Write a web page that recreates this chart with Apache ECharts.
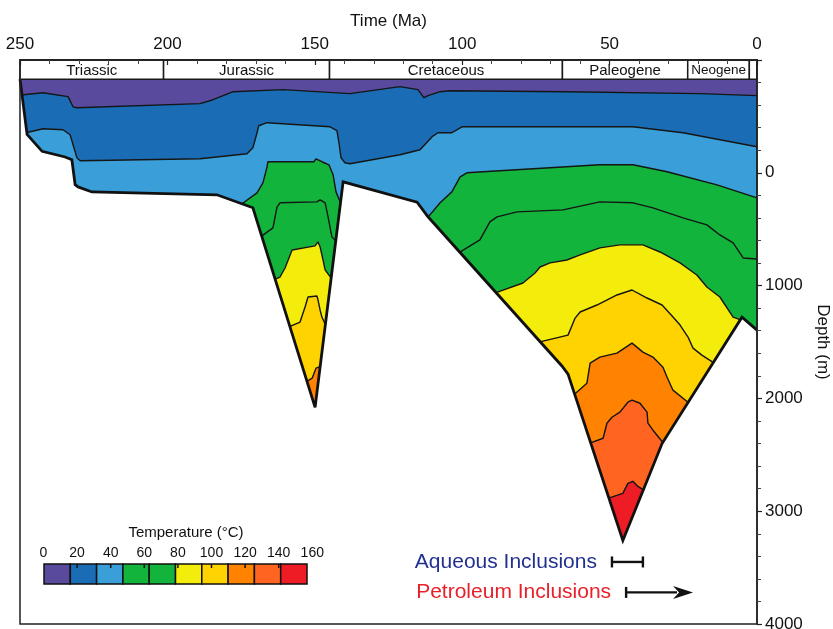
<!DOCTYPE html>
<html>
<head>
<meta charset="utf-8">
<title>Burial and thermal history</title>
<script src="https://cdn.jsdelivr.net/npm/echarts@6/dist/echarts.min.js"></script>
<style>
  html, body { margin: 0; padding: 0; background: #fff; }
  #chart { width: 833px; height: 629px; }
</style>
</head>
<body>
<div id="chart"></div>
<script>
// ---- Data: time in Ma, depth in metres ----
const FONT = '"Liberation Sans", Arial, Helvetica, sans-serif';

const periodNames = ['Triassic', 'Jurassic', 'Cretaceous', 'Paleogene', 'Neogene', ''];
const periodBounds = [250, 201.3, 145, 66, 23.5, 2.6, 0];

const SURFACE = -830;   // top of the section (below the period bar)
const BAR_TOP = -1000;  // top of the period bar
const FLOOR = 4000;     // bottom of the frame
const DEEP = 3950;      // lower closing edge of the band polygons (hidden by the mask)

// temperature bands, coolest to hottest
const zoneColors = ['#5a4a9e', '#1a6cb5', '#3a9fd8', '#12b43c', '#12b43c',
                    '#f4ec0a', '#ffd300', '#ff8200', '#ff6420', '#ee1c25'];
const legendLabels = [0, 20, 40, 60, 80, 100, 120, 140, 160];

// base of the sedimentary section
const basement = [[250, -830], [247.6, -340], [242.5, -190], [234.7, -140], [232.4, -115],
  [231.3, 105], [230.3, 125], [225.6, 170], [183.2, 195], [171.0, 310], [149.9, 2080],
  [140.4, 80], [115.3, 260], [111.6, 390], [66.1, 1715], [64.1, 1785], [45.5, 3260],
  [32.2, 2400], [5.1, 1280], [0, 1395]];

// isotherms separating successive bands, shallow to deep (each may have several pieces)
const iso1 = [[[249.6, -690], [242.2, -710], [233.7, -675], [232.0, -585], [230.7, -577],
  [188.9, -613], [184.5, -648], [177.7, -719], [160.8, -737], [143.8, -711], [138.1, -702],
  [121.1, -764], [115.0, -737], [113.0, -666], [111.6, -684], [107.5, -719], [104.1, -728],
  [64.5, -719], [19.3, -702], [0, -684]]];
const iso2 = [[[248.0, -355], [242.2, -391], [235.4, -382], [233.0, -337], [230.7, -133],
  [229.6, -107], [188.9, -124], [173.0, -169], [171.0, -222], [169.6, -355], [169.0, -417],
  [166.2, -444], [144.8, -408], [142.5, -373], [141.8, -266], [141.1, -133], [139.8, -89],
  [138.1, -80], [121.1, -160], [114.3, -204], [110.2, -320], [108.2, -355], [103.5, -355],
  [100.1, -408], [95.0, -408], [42.1, -408], [25.1, -355], [0, -231]]];
const iso3 = [
  [[175.5, 290], [169.6, 178], [167.6, 89], [166.2, -53], [165.9, -98], [150.3, -98],
   [149.6, -124], [147.6, -98], [145.2, -71], [143.8, 18], [142.8, 169], [141.0, 284]],
  [[111.8, 400], [107.5, 266], [103.5, 169], [100.7, 36], [98.4, 0], [92.9, -9],
   [53.3, -71], [42.1, -71], [30.5, -9], [13.6, 107], [0, 222]]];
const iso4 = [
  [[168.4, 568], [164.2, 488], [162.8, 302], [161.8, 266], [149.3, 258], [148.2, 240],
   [146.5, 266], [145.5, 391], [144.2, 568], [142.5, 613]],
  [[101.2, 710], [94.0, 595], [90.6, 435], [88.2, 391], [81.4, 346], [65.8, 329],
   [53.3, 258], [42.1, 266], [35.3, 311], [25.1, 400], [17.0, 462], [12.6, 551],
   [8.1, 622], [4.7, 755], [0, 764]]];
const iso5 = [
  [[164.0, 950], [161.8, 924], [160.1, 844], [157.7, 684], [149.9, 648], [148.9, 613],
   [148.2, 657], [147.2, 773], [146.5, 861], [144.0, 950]],
  [[89.0, 1066], [79.4, 977], [75.3, 888], [73.6, 835], [70.2, 799], [64.5, 773],
   [60.0, 728], [53.3, 666], [46.5, 639], [38.7, 639], [32.9, 702], [26.1, 799],
   [20.4, 906], [17.0, 1012], [12.6, 1101], [8.1, 1279], [5.3, 1306]]];
const iso6 = [
  [[159.0, 1368], [155.0, 1323], [153.3, 1190], [152.3, 1101], [149.3, 1092],
   [148.9, 1128], [148.2, 1217], [147.6, 1279], [146.0, 1368]],
  [[74.0, 1501], [64.1, 1439], [61.7, 1288], [60.0, 1234], [54.3, 1172], [47.5, 1083],
   [42.4, 1039], [37.3, 1110], [32.2, 1172], [28.5, 1279], [26.1, 1350], [23.4, 1456],
   [21.7, 1554], [18.7, 1616], [14.5, 1687]]];
const iso7 = [
  [[153.1, 1856], [150.9, 1821], [149.6, 1732], [147.7, 1714]],
  [[62.3, 1972], [57.7, 1865], [56.6, 1687], [53.3, 1634], [47.5, 1599], [42.4, 1510],
   [38.7, 1590], [35.3, 1634], [31.9, 1723], [30.5, 1812], [28.5, 1927], [23.0, 2043]]];
const iso8 = [[[56.9, 2398], [52.2, 2353], [50.9, 2220], [49.2, 2167], [46.5, 2122],
  [43.8, 2034], [42.4, 2016], [39.7, 2043], [37.3, 2122], [37.0, 2220], [35.3, 2282],
  [31.7, 2398]]];
const iso9 = [[[50.6, 2886], [45.5, 2842], [43.8, 2753], [42.1, 2735], [40.4, 2780],
  [38.2, 2815]]];
const isotherms = [iso1, iso2, iso3, iso4, iso5, iso6, iso7, iso8, iso9];

// fluid inclusion timing (Ma) and the depth row they are drawn on
const aqueousRange = [49.2, 38.7];
const petroleumRange = [44.4, 21.7];
const inclusionRows = [3450, 3720];

// ---- Build drawable items ----
const fills = [{ at: [250, SURFACE], color: zoneColors[0],
  pts: [[250, SURFACE], [0, SURFACE], [0, DEEP], [250, DEEP]] }];
isotherms.forEach((pieces, k) => {
  pieces.forEach(p => {
    fills.push({ at: p[0], color: zoneColors[k + 1],
      pts: p.concat([[p[p.length - 1][0], DEEP], [p[0][0], DEEP]]) });
  });
});
const lines = [];
isotherms.forEach(pieces => pieces.forEach(p => lines.push({ at: p[0], pts: p })));

const periods = periodNames.map((n, i) => ({
  at: [(periodBounds[i] + periodBounds[i + 1]) / 2, (BAR_TOP + SURFACE) / 2],
  name: n, from: periodBounds[i], to: periodBounds[i + 1]
}));

const inclusions = [
  { at: [aqueousRange[0], inclusionRows[0]], label: 'Aqueous Inclusions', color: '#22308f',
    from: aqueousRange[0], to: aqueousRange[1], depth: inclusionRows[0], arrow: false },
  { at: [petroleumRange[0], inclusionRows[1]], label: 'Petroleum Inclusions', color: '#e8202a',
    from: petroleumRange[0], to: petroleumRange[1], depth: inclusionRows[1], arrow: true }
];

function layer(name, z, items, draw) {
  return {
    type: 'custom', name: name, z: z, silent: true, animation: false, clip: false,
    coordinateSystem: 'cartesian2d',
    data: items.map((it, i) => [it.at[0], it.at[1], i]),
    encode: { x: 0, y: 1 },
    renderItem: (params, api) => draw(items[params.dataIndex], api)
  };
}

const series = [
  layer('bands', 2, fills, (it, api) => ({
    type: 'polygon',
    shape: { points: it.pts.map(p => api.coord(p)) },
    style: { fill: it.color, stroke: it.color, lineWidth: 0.5 }
  })),
  layer('isotherms', 3, lines, (it, api) => ({
    type: 'polyline',
    shape: { points: it.pts.map(p => api.coord(p)) },
    style: { fill: 'none', stroke: '#151515', lineWidth: 1.4, lineJoin: 'round' }
  })),
  layer('basementMask', 4, [{ at: basement[0] }], (it, api) => ({
    type: 'polygon',
    shape: { points: basement.concat([[0, FLOOR], [250, FLOOR]]).map(p => api.coord(p)) },
    style: { fill: '#ffffff', stroke: '#ffffff', lineWidth: 1 }
  })),
  layer('basement', 5, [{ at: basement[0] }], (it, api) => ({
    type: 'polyline',
    shape: { points: basement.map(p => api.coord(p)) },
    style: { fill: 'none', stroke: '#111', lineWidth: 2.8, lineJoin: 'miter', miterLimit: 4 }
  })),
  layer('periods', 6, periods, (it, api) => {
    const a = api.coord([it.from, BAR_TOP]);
    const b = api.coord([it.to, SURFACE]);
    const c = api.coord(it.at);
    return {
      type: 'group',
      children: [
        { type: 'rect', shape: { x: a[0], y: a[1], width: b[0] - a[0], height: b[1] - a[1] },
          style: { fill: '#fff', stroke: '#1a1a1a', lineWidth: 1.5 } },
        { type: 'text', x: c[0], y: c[1] + 1,
          style: { text: it.name, fill: '#111', fontSize: it.name === 'Neogene' ? 13.5 : 15,
                   fontFamily: FONT, align: 'center', verticalAlign: 'middle' } }
      ]
    };
  }),
  layer('inclusions', 7, inclusions, (it, api) => {
    const s = api.coord([it.from, it.depth]);
    const e = api.coord([it.to, it.depth]);
    const kids = [
      { type: 'text', x: s[0] - 15, y: s[1],
        style: { text: it.label, fill: it.color, fontSize: 21, fontFamily: FONT,
                 align: 'right', verticalAlign: 'middle' } },
      { type: 'line', shape: { x1: s[0], y1: s[1] - 5.5, x2: s[0], y2: s[1] + 5.5 },
        style: { stroke: '#111', lineWidth: 2.4 } }
    ];
    if (it.arrow) {
      kids.push({ type: 'line', shape: { x1: s[0], y1: s[1], x2: e[0] - 16, y2: e[1] },
        style: { stroke: '#111', lineWidth: 2.4 } });
      kids.push({ type: 'polygon',
        shape: { points: [[e[0], e[1]], [e[0] - 20, e[1] - 6.5], [e[0] - 14, e[1]], [e[0] - 20, e[1] + 6.5]] },
        style: { fill: '#111' } });
    } else {
      kids.push({ type: 'line', shape: { x1: s[0], y1: s[1], x2: e[0], y2: e[1] },
        style: { stroke: '#111', lineWidth: 2.4 } });
      kids.push({ type: 'line', shape: { x1: e[0], y1: e[1] - 5.5, x2: e[0], y2: e[1] + 5.5 },
        style: { stroke: '#111', lineWidth: 2.4 } });
    }
    return { type: 'group', children: kids };
  })
];

// ---- Temperature colour scale ----
const legend = [];
const boxLeft = 44, boxW = 26.3, boxTop = 564, boxH = 20;
zoneColors.forEach((c, i) => {
  legend.push({ type: 'rect', z: 100,
    shape: { x: boxLeft + i * boxW, y: boxTop, width: boxW, height: boxH },
    style: { fill: c, stroke: '#111', lineWidth: 1.5 } });
});
legendLabels.forEach((v, i) => {
  const x = 43.5 + i * 33.6;
  legend.push({ type: 'text', z: 100, x: x, y: 553,
    style: { text: String(v), fill: '#111', fontSize: 14, fontFamily: FONT,
             align: 'center', verticalAlign: 'middle' } });
  if (i > 0 && i < legendLabels.length - 1) {
    legend.push({ type: 'line', z: 101,
      shape: { x1: x, y1: boxTop, x2: x, y2: boxTop + 4 },
      style: { stroke: '#111', lineWidth: 1.5 } });
  }
});
legend.push({ type: 'text', z: 100, x: 186, y: 533,
  style: { text: 'Temperature (°C)', fill: '#111', fontSize: 15, fontFamily: FONT,
           align: 'center', verticalAlign: 'middle' } });

const chart = echarts.init(document.getElementById('chart'), null, { renderer: 'canvas' });
chart.setOption({
  animation: false,
  backgroundColor: '#ffffff',
  grid: { left: 20, right: 76, top: 60, bottom: 5, show: true, z: 10,
          containLabel: false, outerBoundsMode: 'none',
          backgroundColor: 'transparent', borderColor: '#222', borderWidth: 1.5 },
  xAxis: {
    type: 'value', position: 'top', inverse: true, min: 0, max: 250, interval: 50, z: 10,
    name: 'Time (Ma)', nameLocation: 'middle', nameGap: 30,
    nameTextStyle: { fontSize: 17, color: '#111', fontFamily: FONT },
    axisLine: { show: true, onZero: false, lineStyle: { color: '#222', width: 1.5 } },
    axisTick: { show: true, inside: true, length: 5, lineStyle: { color: '#222', width: 1.2 } },
    minorTick: { show: true, splitNumber: 5, length: 4, lineStyle: { color: '#444', width: 1 } },
    axisLabel: { fontSize: 17, color: '#111', margin: 7, fontFamily: FONT },
    splitLine: { show: false }
  },
  yAxis: {
    type: 'value', position: 'right', inverse: true, min: -1000, max: 4000, interval: 1000, z: 10,
    name: 'Depth (m)', nameLocation: 'middle', nameRotate: -90, nameGap: 57,
    nameTextStyle: { fontSize: 17, color: '#111', fontFamily: FONT },
    axisLine: { show: true, onZero: false, lineStyle: { color: '#222', width: 1.5 } },
    axisTick: { show: true, length: 5, lineStyle: { color: '#222', width: 1.2 } },
    minorTick: { show: true, splitNumber: 5, length: 4, lineStyle: { color: '#444', width: 1 } },
    axisLabel: { fontSize: 17, color: '#111', margin: 8, fontFamily: FONT,
                 formatter: v => (v < 0 ? '' : String(v)) },
    splitLine: { show: false }
  },
  graphic: legend,
  series: series
});
</script>
</body>
</html>
